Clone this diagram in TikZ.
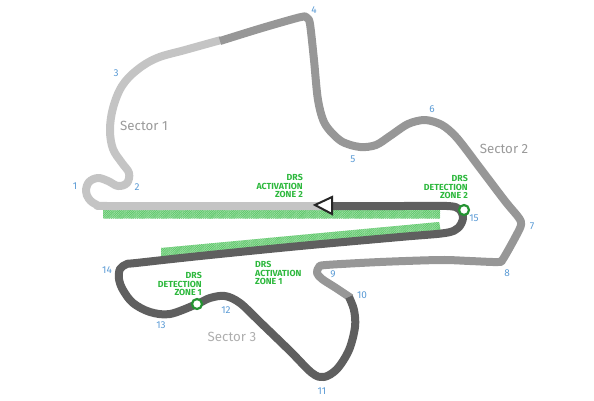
\documentclass[tikz,border=0pt]{standalone}
\usepackage{fontspec}
\setmainfont{Fira Sans}
\usetikzlibrary{patterns.meta}
\definecolor{trackone}{HTML}{C4C4C4}
\definecolor{tracktwo}{HTML}{979797}
\definecolor{trackthree}{HTML}{5F5F5F}
\definecolor{turnblue}{HTML}{5B9BD5}
\definecolor{drsgreen}{HTML}{2DB83D}
\definecolor{sectorgray}{HTML}{9A9A9A}

\begin{document}
\begin{tikzpicture}[
  x=1pt, y=-1pt,
  sectorone/.style={draw=trackone, line width=8pt, line cap=butt, line join=round},
  sectortwo/.style={draw=tracktwo, line width=8pt, line cap=butt, line join=round},
  sectorthree/.style={draw=trackthree, line width=8pt, line cap=butt, line join=round},
  zone/.style={preaction={fill=drsgreen!40}, pattern={Lines[angle=45,distance=1.3pt,line width=0.6pt]}, pattern color=drsgreen!80, draw=none},
  turn/.style={font=\fontsize{10}{11}\selectfont, text=turnblue, inner sep=0pt},
  sector/.style={font=\fontsize{13.3}{15}\selectfont, text=sectorgray, inner sep=0pt},
  drs/.style={font=\fontsize{8.8}{8.7}\selectfont\bfseries, text=drsgreen, inner sep=0pt},
  marker/.style={circle, draw=drsgreen!80!black, fill=white, line width=2.2pt, minimum size=10pt, inner sep=0pt},
]
\useasboundingbox (0,0) rectangle (594,400);

% --- DRS zones ---
\path[zone] (103,209) rectangle (440,218);
\path[zone] (161,248) -- (439,222) -- (441,231) -- (161,258) -- cycle;

% --- track, sector 1 ---
\draw[sectorone] plot[smooth, tension=0.6] coordinates {(322,206) (200,206) (108,206) (97,205) (89,199) (86,191) (89,182) (98,178) (108,181) (118,186) (127,183) (129,173) (122,163) (113,149) (110,130) (113,108) (122,86) (137,70) (157,58) (185,50) (221,40)};

% --- track, sector 2 ---
\draw[sectortwo] plot[smooth, tension=0.5] coordinates {(220,41) (262,28) (301,17) (307,18) (310,24) (314,60) (318,100) (325,124) (341,141) (360,147) (376,145) (390,136) (408,124) (425,120) (442,125) (457,138) (480,168) (505,201) (519,218) (521,225) (516,236) (503,259) (498,262) (470,261) (440,260) (380,262) (326,265) (319,267) (317,273) (322,279) (336,288) (351,298)};

% --- track, sector 3 ---
\draw[sectorthree] plot[smooth, tension=0.55] coordinates {(349,297) (354,310) (355,327) (349,350) (337,369) (324,377) (312,373) (290,351) (260,322) (240,303) (225,296) (210,298) (197,304) (170,314) (150,312) (133,303) (123,290) (119,279) (120,269) (127,264) (136,263) (200,256) (300,246) (400,237) (445,233) (458,228) (463,218) (459,209) (447,206) (400,206) (322,206)};

% --- start arrow ---
\draw[black!85, fill=white, line width=2pt, line join=miter] (315,205) -- (332,197) -- (332,214) -- cycle;

% --- detection points ---
\node[marker] (detone) at (197,304) {};
\node[marker] (dettwo) at (464,210) {};

% --- turn numbers ---
\node[turn] (t1) at (75,186) {1};
\node[turn] (t2) at (137,187) {2};
\node[turn] (t3) at (116,73) {3};
\node[turn] (t4) at (314,10) {4};
\node[turn] (t5) at (353,159) {5};
\node[turn] (t6) at (432,109) {6};
\node[turn] (t7) at (532,226) {7};
\node[turn] (t8) at (507,273) {8};
\node[turn] (t9) at (333,274) {9};
\node[turn] (t10) at (362,295) {10};
\node[turn] (t11) at (322,391) {11};
\node[turn] (t12) at (226,310) {12};
\node[turn] (t13) at (161,325) {13};
\node[turn] (t14) at (107,270) {14};
\node[turn] (t15) at (474,218) {15};

% --- sector names ---
\node[sector] (sname1) at (144,126) {Sector 1};
\node[sector] (sname2) at (504,149) {Sector 2};
\node[sector, text=sectorgray!80] (sname3) at (232,337) {Sector 3};

% --- DRS labels ---
\node[drs, align=right, anchor=east] (act2) at (303,186) {DRS\\ ACTIVATION\\ ZONE 2};
\node[drs, align=right, anchor=east] (det2) at (468,187) {DRS\\ DETECTION\\ ZONE 2};
\node[drs, align=left, anchor=west] (act1) at (255,273) {DRS\\ ACTIVATION\\ ZONE 1};
\node[drs, align=right, anchor=east] (det1) at (202,284) {DRS\\ DETECTION\\ ZONE 1};
\end{tikzpicture}
\end{document}
